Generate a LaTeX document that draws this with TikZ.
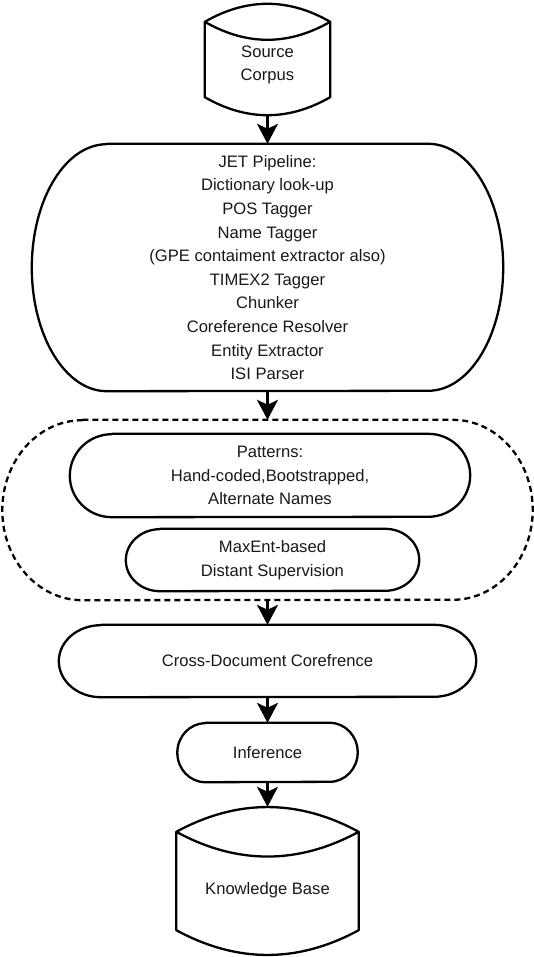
\documentclass[tikz,border=0pt]{standalone}
\usepackage{fontspec}
\setmainfont{Liberation Sans}
\usetikzlibrary{arrows.meta,calc}

% outline with half-ellipse ends: node, x radius, y radius
\newcommand\pillline[4][]{%
  \draw[outline,#1] ($(#2.north west)+(#3,0)$) -- ($(#2.north east)-(#3,0)$)
    arc[start angle=90,end angle=-90,x radius=#3pt,y radius=#4pt]
    -- ($(#2.south west)+(#3,0)$)
    arc[start angle=270,end angle=90,x radius=#3pt,y radius=#4pt] -- cycle;}
% storage drum: node, bulge of the control points
\newcommand\drumline[2]{%
  \draw[outline] (#1.north west)
      .. controls ($(#1.north west)!1/3!(#1.north east)+(0pt,#2)$) and ($(#1.north west)!2/3!(#1.north east)+(0pt,#2)$) .. (#1.north east)
      .. controls ($(#1.north west)!2/3!(#1.north east)-(0pt,#2)$) and ($(#1.north west)!1/3!(#1.north east)-(0pt,#2)$) .. (#1.north west)
      -- (#1.south west)
      .. controls ($(#1.south west)!1/3!(#1.south east)-(0pt,#2)$) and ($(#1.south west)!2/3!(#1.south east)-(0pt,#2)$) .. (#1.south east)
      -- (#1.north east);}

\begin{document}
\begin{tikzpicture}[x=1pt, y=-1pt,
    outline/.style={line width=2.3pt, line join=round},
    flow/.style={line width=2.3pt, -{Stealth[length=20pt,width=21pt,inset=5pt]}},
    body/.style={draw=none, inner sep=0pt},
    txt/.style={font=\fontsize{16.6}{23.6}\selectfont, align=center, text=black!90}]
    \fill[white] (0,0) rectangle (534,957);
    \useasboundingbox (0,0) rectangle (534,957);

    % drums
    \node[body, minimum width=125pt, minimum height=75pt,
          label={[txt,yshift=-5.5pt]center:{Source\\Corpus}}] (source) at (267.5,59.5) {};
    \node[body, minimum width=182pt, minimum height=98pt,
          label={[txt,yshift=-9pt]center:{Knowledge Base}}] (kb) at (267.5,881) {};
    \drumline{source}{24pt}
    \drumline{kb}{33pt}

    % process boxes
    \node[body, txt, minimum width=471pt, minimum height=247pt] (jet) at (267.5,267.5)
        {JET Pipeline:\\Dictionary look-up\\POS Tagger\\Name Tagger\\(GPE contaiment extractor also)\\TIMEX2 Tagger\\Chunker\\Coreference Resolver\\Entity Extractor\\ISI Parser};
    \node[body, minimum width=530pt, minimum height=180pt] (mining) at (267.5,510) {};
    \node[body, txt, minimum width=400pt, minimum height=83pt] (patterns) at (270,475.5)
        {Patterns:\\Hand-coded,Bootstrapped,\\Alternate Names};
    \node[body, txt, minimum width=293pt, minimum height=62pt] (maxent) at (272.5,560)
        {MaxEnt-based\\Distant Supervision};
    \node[body, txt, minimum width=417pt, minimum height=72pt] (cross) at (267.5,661)
        {Cross-Document Corefrence};
    \node[body, txt, minimum width=180pt, minimum height=59pt] (infer) at (267.5,752.5)
        {Inference};

    \pillline{jet}{75}{123.5}
    \pillline[dash pattern=on 6pt off 4pt]{mining}{80}{90}
    \pillline{patterns}{42}{41.5}
    \pillline{maxent}{34}{31}
    \pillline{cross}{42}{36}
    \pillline{infer}{28}{29.5}

    % connectors
    \draw[flow] ($(source.south)+(0,18)$) -- (jet.north);
    \draw[flow] (jet.south) -- (mining.north);
    \draw[flow] (mining.south) -- (cross.north);
    \draw[flow] (cross.south) -- (infer.north);
    \draw[flow] (infer.south) -- ($(kb.north)+(0,-25)$);
\end{tikzpicture}
\end{document}
